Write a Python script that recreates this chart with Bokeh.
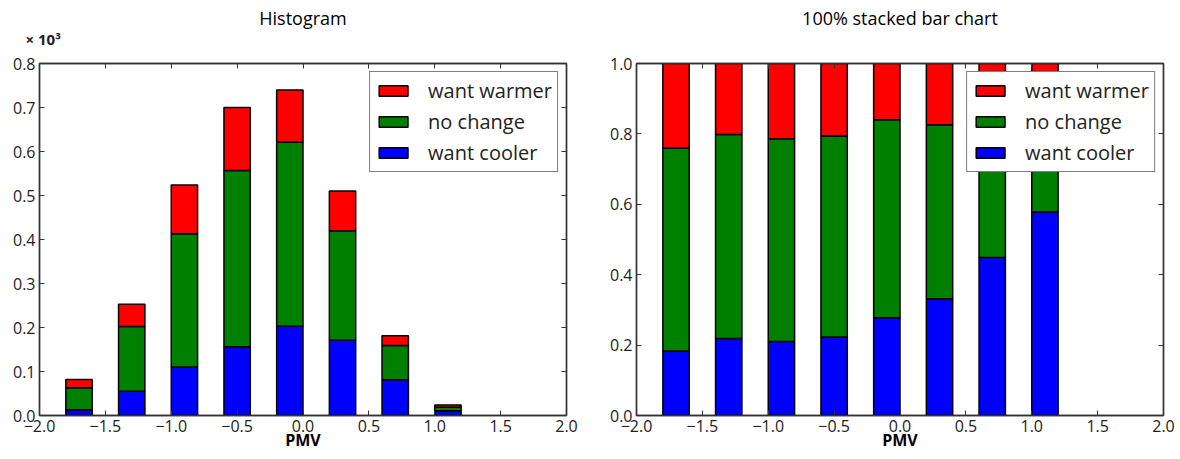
from bokeh.plotting import figure
from bokeh.models import (ColumnDataSource, Legend, LegendItem, LinearAxis, Range1d,
                          FixedTicker, CustomJSTickFormatter, Title)
from bokeh.layouts import row
from bokeh.embed import file_html
from bokeh.resources import INLINE

# ---------------- data ----------------
pmv_centers = [-1.7, -1.3, -0.9, -0.5, -0.1, 0.3, 0.7, 1.1]
series_names = ["want cooler", "no change", "want warmer"]

# Histogram counts (x 10^3)
hist_want_cooler = [0.013, 0.055, 0.110, 0.156, 0.203, 0.171, 0.081, 0.011]
hist_no_change   = [0.050, 0.147, 0.303, 0.401, 0.418, 0.249, 0.078, 0.008]
hist_want_warmer = [0.019, 0.051, 0.111, 0.143, 0.119, 0.090, 0.022, 0.005]

# 100% stacked fractions
frac_want_cooler = [0.183, 0.219, 0.210, 0.223, 0.278, 0.332, 0.449, 0.578]
frac_no_change   = [0.576, 0.579, 0.576, 0.571, 0.562, 0.494, 0.431, 0.242]
frac_want_warmer = [0.241, 0.202, 0.214, 0.206, 0.160, 0.174, 0.120, 0.180]

x_ticks = [-2.0, -1.5, -1.0, -0.5, 0.0, 0.5, 1.0, 1.5, 2.0]
hist_y_ticks = [0.0, 0.1, 0.2, 0.3, 0.4, 0.5, 0.6, 0.7, 0.8]
frac_y_ticks = [0.0, 0.2, 0.4, 0.6, 0.8, 1.0]

# ---------------- style ----------------
BAR_WIDTH = 0.2
COLORS = ["#0000ff", "#008000", "#ff0000"]
FONT = "Open Sans"
AX_COLOR = "#333333"
TXT_COLOR = "#222222"

fmt = CustomJSTickFormatter(code="return tick.toFixed(1).replace('-', '\\u2212');")
empty_fmt = CustomJSTickFormatter(code="return '';")


def style_axis(ax, ticks, labels=True):
    ax.ticker = FixedTicker(ticks=ticks)
    ax.major_tick_in = 5
    ax.major_tick_out = 0
    ax.minor_tick_line_color = None
    ax.axis_line_color = AX_COLOR
    ax.axis_line_width = 1.4
    ax.major_tick_line_color = AX_COLOR
    ax.major_tick_line_width = 1
    if labels:
        ax.formatter = fmt
        ax.major_label_text_font = FONT
        ax.major_label_text_font_size = "16px"
        ax.major_label_text_color = TXT_COLOR
        ax.major_label_standoff = 4
    else:
        ax.formatter = empty_fmt
        ax.major_label_text_font_size = "0px"
        ax.major_label_standoff = 0


def make_fig(title, exp_text, y_end, y_ticks, cooler, nochange, warmer, width, bl, br):
    p = figure(width=width, height=458, x_range=Range1d(-2, 2), y_range=Range1d(0, y_end),
               output_backend="svg", toolbar_location=None,
               min_border_left=bl, min_border_right=br, min_border_top=63,
               min_border_bottom=43)
    p.xgrid.visible = False
    p.ygrid.visible = False
    p.outline_line_color = AX_COLOR
    p.outline_line_width = 1.4

    style_axis(p.below[0], x_ticks)
    style_axis(p.left[0], y_ticks)
    p.below[0].axis_label = "PMV"
    p.below[0].axis_label_text_font = FONT
    p.below[0].axis_label_text_font_size = "16px"
    p.below[0].axis_label_text_font_style = "bold"
    p.below[0].axis_label_text_color = "black"
    p.below[0].axis_label_standoff = -6

    top = LinearAxis()
    style_axis(top, x_ticks, labels=False)
    p.add_layout(top, "above")
    right = LinearAxis()
    style_axis(right, y_ticks, labels=False)
    p.add_layout(right, "right")

    t_exp = Title(text=exp_text, align="left", offset=-14, text_font=FONT,
                  text_font_size="15px", text_font_style="bold", text_color=TXT_COLOR,
                  standoff=30)
    p.add_layout(t_exp, "above")
    t_main = Title(text=title, align="center", text_font=FONT, text_font_size="18px",
                   text_font_style="normal", text_color="black", standoff=-36)
    p.add_layout(t_main, "above")

    src = ColumnDataSource(dict(x=pmv_centers, cooler=cooler, nochange=nochange, warmer=warmer))
    rs = p.vbar_stack(["cooler", "nochange", "warmer"], x="x", width=BAR_WIDTH, source=src,
                      fill_color=COLORS, line_color="black", line_width=1.5)
    items = [LegendItem(label=series_names[i], renderers=[rs[i]]) for i in (2, 1, 0)]
    leg = Legend(items=items, location="top_right", border_line_color="black",
                 border_line_width=1.5, label_text_font=FONT, label_text_font_size="20px",
                 label_text_color=TXT_COLOR, glyph_width=36, glyph_height=13, spacing=4,
                 padding=5, margin=8, label_standoff=17, label_height=20,
                 background_fill_alpha=1)
    p.add_layout(leg, "center")
    return p


p1 = make_fig("Histogram", "\u00d7 10\u00b3", 0.8, hist_y_ticks, hist_want_cooler,
              hist_no_change, hist_want_warmer, 606, 39, 40)
p2 = make_fig("100% stacked bar chart", " ", 1.0, frac_y_ticks, frac_want_cooler,
              frac_no_change, frac_want_warmer, 572, 30, 15)

layout = row(p1, p2)
open("out.html", "w").write(file_html(layout, INLINE))
